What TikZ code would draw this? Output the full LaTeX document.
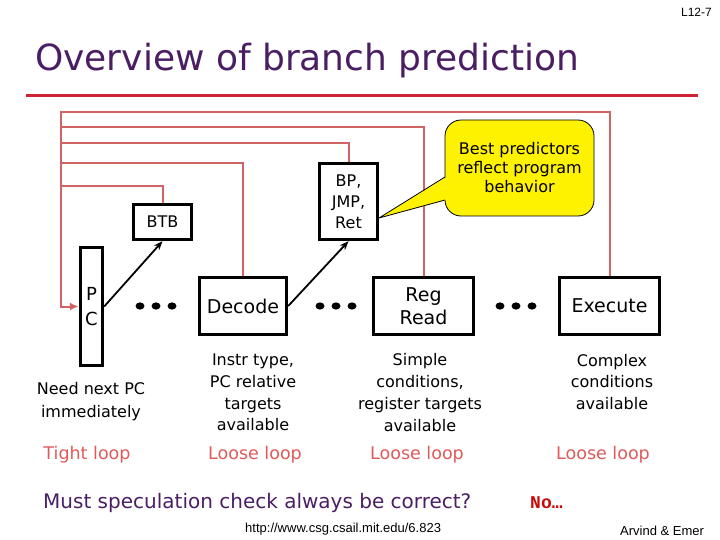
\documentclass[tikz,border=0pt]{standalone}
\usepackage{fontspec}
\setmainfont{DejaVu Sans}
\newfontfamily\lsans{Liberation Sans}
\newfontfamily\lmono{Liberation Mono}
\usetikzlibrary{arrows.meta}
\definecolor{titlepurple}{RGB}{75,30,100}
\definecolor{rulered}{RGB}{204,34,51}
\definecolor{fbred}{RGB}{208,100,100}
\definecolor{looptxt}{RGB}{224,90,90}
\definecolor{nored}{RGB}{200,10,10}
\begin{document}
\begin{tikzpicture}[x=1pt,y=-1pt,
 stage/.style={draw,line width=3.4pt,inner sep=0pt,align=center,font=\fontsize{19}{23}\selectfont},
 fb/.style={draw=fbred,line width=2pt},
 pred/.style={draw,line width=1.8pt,-{Stealth[length=9pt,width=7pt]}},
 note/.style={align=center,font=\fontsize{16}{22}\selectfont},
 looplbl/.style={text=looptxt,font=\fontsize{17.5}{20}\selectfont}]
\useasboundingbox (0,0) rectangle (720,540);
% title and rule
\node[anchor=base west,inner sep=0pt,text=titlepurple,font=\fontsize{36}{40}\selectfont] (title) at (35,71) {Overview of branch prediction};
\coordinate (rl) at (26,96); \coordinate (rr0) at (698,96);
\draw[rulered,line width=3pt] (rl) -- (rr0);
\node[anchor=base east,inner sep=0pt,font=\lsans\fontsize{12}{14}\selectfont] (slide) at (712,17) {L12-7};
% stages
\node[stage,minimum width=22pt,minimum height=118pt,font=\fontsize{18}{25}\selectfont] (pc) at (91.5,306.5) {P\\C};
\node[stage,minimum width=58pt,minimum height=35pt,font=\fontsize{16}{20}\selectfont] (btb) at (162.5,222) {BTB};
\node[stage,minimum width=87pt,minimum height=57pt] (dec) at (243,306) {Decode};
\node[stage,minimum width=58pt,minimum height=76pt,font=\fontsize{16}{21}\selectfont] (bp) at (348.5,201.5) {BP,\\JMP,\\Ret};
\node[stage,minimum width=100pt,minimum height=57pt] (rreg) at (423.5,306) {Reg\\Read};
\node[stage,minimum width=100pt,minimum height=57pt] (ex) at (609.5,306) {Execute};
% feedback lines
\coordinate (jex) at (61,112);
\coordinate (jrr) at (61,127);
\coordinate (jbp) at (61,143);
\coordinate (jdec) at (61,163);
\coordinate (jbtb) at (61,186);
\draw[fb,-{Latex[length=9pt,width=8pt]}] (ex.north) |- (jex) |- (pc.west);
\draw[fb] (rreg.north) |- (jrr);
\draw[fb] (bp.north) |- (jbp);
\draw[fb] (dec.north) |- (jdec);
\draw[fb] (btb.north) |- (jbtb);
% predictor arrows
\draw[pred] (pc.east) -- (btb.south);
\draw[pred] (dec.east) -- (bp.south);
% dots
\foreach \x in {140,156,172,320,336,352,500,516,532}
  \fill (\x,306) ellipse[x radius=4.5pt,y radius=3.6pt];
% callout
\node[draw,line width=0.8pt,fill=yellow,rounded corners=16pt,minimum width=149pt,minimum height=96pt,align=center,font=\fontsize{16}{19}\selectfont] (cb) at (519.5,168) {Best predictors\\reflect program\\behavior};
\coordinate (tip) at (379,218);
\coordinate (c1) at (445,177);
\coordinate (c2) at (445,200);
\fill[yellow] ([xshift=1.5pt]c1) -- (tip) -- ([xshift=1.5pt]c2) -- cycle;
\draw[line width=0.8pt] (c1) -- (tip) -- (c2);
% notes
\node[note,font=\fontsize{16}{23}\selectfont] (t1) at (91,401.5) {Need next PC\\immediately};
\node[note,font=\fontsize{16}{21.7}\selectfont] (t2) at (253,392.5) {Instr type,\\PC relative\\targets\\available};
\node[note,font=\fontsize{16}{21.7}\selectfont] (t3) at (420,392.5) {Simple\\conditions,\\register targets\\available};
\node[note,font=\fontsize{16}{21.7}\selectfont] (t4) at (612,382) {Complex\\conditions\\available};
% loops
\node[looplbl] (l1) at (87,455) {Tight loop};
\node[looplbl] (l2) at (255,455) {Loose loop};
\node[looplbl] (l3) at (417,455) {Loose loop};
\node[looplbl] (l4) at (603,455) {Loose loop};
% bottom
\node[anchor=base west,inner sep=0pt,text=titlepurple,font=\fontsize{20}{24}\selectfont] (q) at (43,508) {Must speculation check always be correct?};
\node[anchor=base west,inner sep=0pt,text=nored,font=\lmono\bfseries\fontsize{18}{22}\selectfont] (no) at (530,508) {No…};
\node[anchor=base west,inner sep=0pt,font=\lsans\fontsize{13}{15}\selectfont] (url) at (245,532) {http://www.csg.csail.mit.edu/6.823};
\node[anchor=base west,inner sep=0pt,font=\lsans\fontsize{13}{15}\selectfont] (auth) at (620,535) {Arvind \& Emer};
\end{tikzpicture}
\end{document}
